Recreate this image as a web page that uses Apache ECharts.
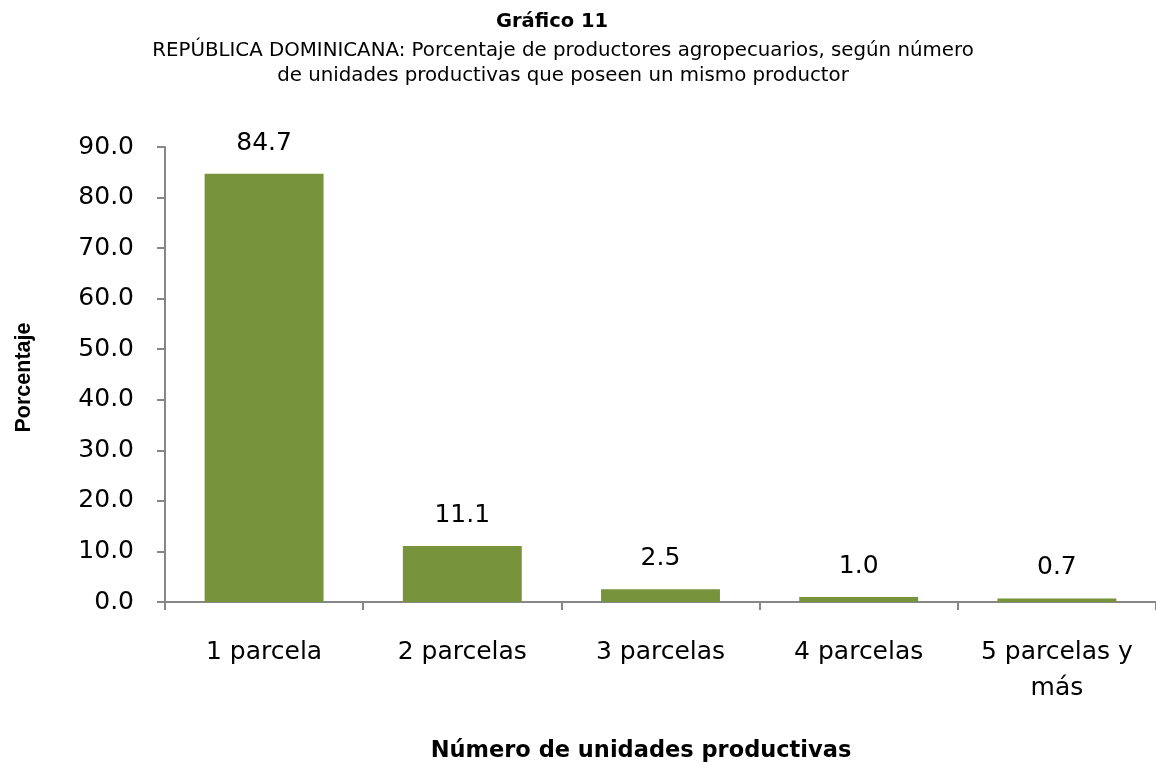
<!DOCTYPE html>
<html>
<head>
<meta charset="utf-8">
<script src="https://cdn.jsdelivr.net/npm/echarts@6/dist/echarts.min.js"></script>
<style>
html,body{margin:0;padding:0;background:#fff;}
#chart{width:1156px;height:768px;}
</style>
</head>
<body>
<div id="chart"></div>
<script>
const categories = ['1 parcela', '2 parcelas', '3 parcelas', '4 parcelas', '5 parcelas y\nmás'];
const values = [84.7, 11.1, 2.5, 1.0, 0.7];
const yTicks = { min: 0, max: 90, interval: 10 };
const titleText = 'Gráfico 11';
const subtitleText = 'REPÚBLICA DOMINICANA: Porcentaje de productores agropecuarios, según número\nde unidades productivas que poseen un mismo productor';
const xAxisTitle = 'Número de unidades productivas';
const yAxisTitle = 'Porcentaje';

const chart = echarts.init(document.getElementById('chart'), null, { renderer: 'canvas' });
const axisColor = '#878787';
chart.setOption({
  animation: false,
  backgroundColor: '#ffffff',
  title: [
    {
      text: titleText,
      left: 547, top: 7, textAlign: 'center',
      textStyle: { fontFamily: 'DejaVu Sans', fontWeight: 'bold', fontSize: 19.5, color: '#000' }
    },
    {
      text: subtitleText,
      left: 558, top: 33, textAlign: 'center',
      textStyle: { fontFamily: 'DejaVu Sans', fontWeight: 'normal', fontSize: 19.8, lineHeight: 25, color: '#000' }
    },
    {
      text: xAxisTitle,
      left: 636, top: 735, textAlign: 'center',
      textStyle: { fontFamily: 'DejaVu Sans', fontWeight: 'bold', fontSize: 22.5, color: '#000' }
    }
  ],
  grid: { left: 165, top: 147, width: 996, height: 455, containLabel: false },
  xAxis: {
    type: 'category',
    data: categories,
    axisLine: { lineStyle: { color: axisColor, width: 2 } },
    axisTick: { show: true, length: 8, lineStyle: { color: axisColor, width: 2 } },
    axisLabel: { fontFamily: 'DejaVu Sans', fontSize: 25, color: '#000', margin: 32, lineHeight: 36, interval: 0 }
  },
  yAxis: {
    type: 'value',
    min: yTicks.min, max: yTicks.max, interval: yTicks.interval,
    name: yAxisTitle,
    nameLocation: 'middle',
    nameGap: 130,
    nameTextStyle: { fontFamily: 'Liberation Sans', fontWeight: 'bold', fontSize: 21.5, color: '#000', padding: [0, 6, 0, 0] },
    axisLine: { show: true, lineStyle: { color: axisColor, width: 2 } },
    axisTick: { show: true, length: 8, lineStyle: { color: axisColor, width: 2 } },
    splitLine: { show: false },
    axisLabel: {
      fontFamily: 'DejaVu Sans', fontSize: 25, color: '#000', margin: 31,
      formatter: v => v.toFixed(1)
    }
  },
  series: [{
    type: 'bar',
    data: values,
    barWidth: '60%',
    itemStyle: { color: '#77933C' },
    label: {
      show: true, position: 'top', distance: 18,
      fontFamily: 'DejaVu Sans', fontSize: 25, color: '#000',
      formatter: p => p.value.toFixed(1)
    }
  }]
});
</script>
</body>
</html>
